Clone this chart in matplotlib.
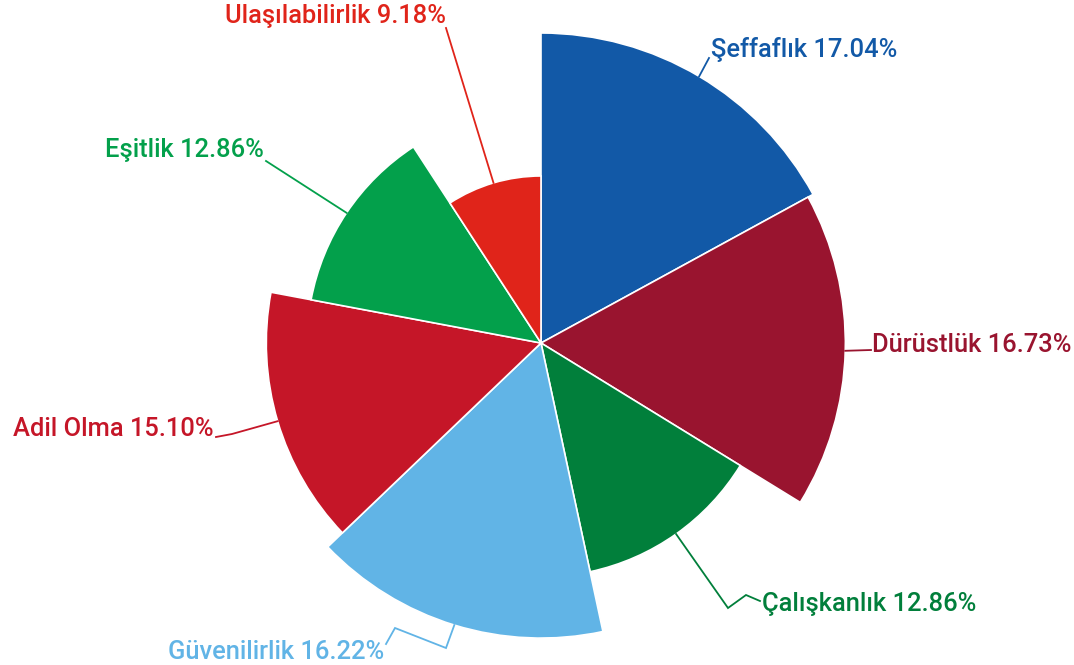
import numpy as np
import matplotlib.pyplot as plt
from matplotlib.patches import Wedge

labels = ['Şeffaflık', 'Dürüstlük', 'Çalışkanlık', 'Güvenilirlik',
          'Adil Olma', 'Eşitlik', 'Ulaşılabilirlik']
values = [17.04, 16.73, 12.86, 16.22, 15.10, 12.86, 9.18]
colors = ['#1259A7', '#99142F', '#017F3B', '#61B4E6',
          '#C51628', '#03A04B', '#E0241A']

# layout (pixel coords, y down): center, scale, label anchors and leader elbows
cx, cy = 541, 343
scale = 310 / max(values)
label_pos = [(711, 49, 'left'), (872, 345, 'left'), (762, 604, 'left'),
             (384, 652, 'right'), (214, 429, 'right'), (264, 150, 'right'),
             (446, 16, 'right')]
elbows = [[(709, 58)],
          [(871, 350)],
          [(728, 608), (746, 595), (760, 601)],
          [(446, 648), (395, 628), (386, 644)],
          [(232, 434), (216, 437)],
          [(266, 161)],
          [(446, 28)]]

fig = plt.figure(figsize=(10.74, 6.65), dpi=100)
ax = fig.add_axes([0, 0, 1, 1])
ax.set_xlim(0, 1074)
ax.set_ylim(665, 0)
ax.set_aspect('equal')
ax.axis('off')

total = sum(values)
start = 0.0
for lab, v, c, (tx, ty, ha), el in zip(labels, values, colors, label_pos, elbows):
    a0 = start / total * 360
    a1 = (start + v) / total * 360
    r = v * scale
    ax.add_patch(Wedge((cx, cy), r, a0 - 90, a1 - 90, facecolor=c,
                       edgecolor='white', linewidth=1.2))
    mid = np.radians((a0 + a1) / 2)
    sx = cx + r * np.sin(mid)
    sy = cy - r * np.cos(mid)
    xs = [sx] + [p[0] for p in el]
    ys = [sy] + [p[1] for p in el]
    ax.plot(xs, ys, color=c, lw=1.3, solid_joinstyle='miter')
    ax.text(tx, ty, f'{lab} {v:.2f}%', color=c, ha=ha, va='center',
            fontsize=18.4, fontfamily='Roboto', fontweight='medium')
    start += v

fig.savefig('out.png', dpi=100)
